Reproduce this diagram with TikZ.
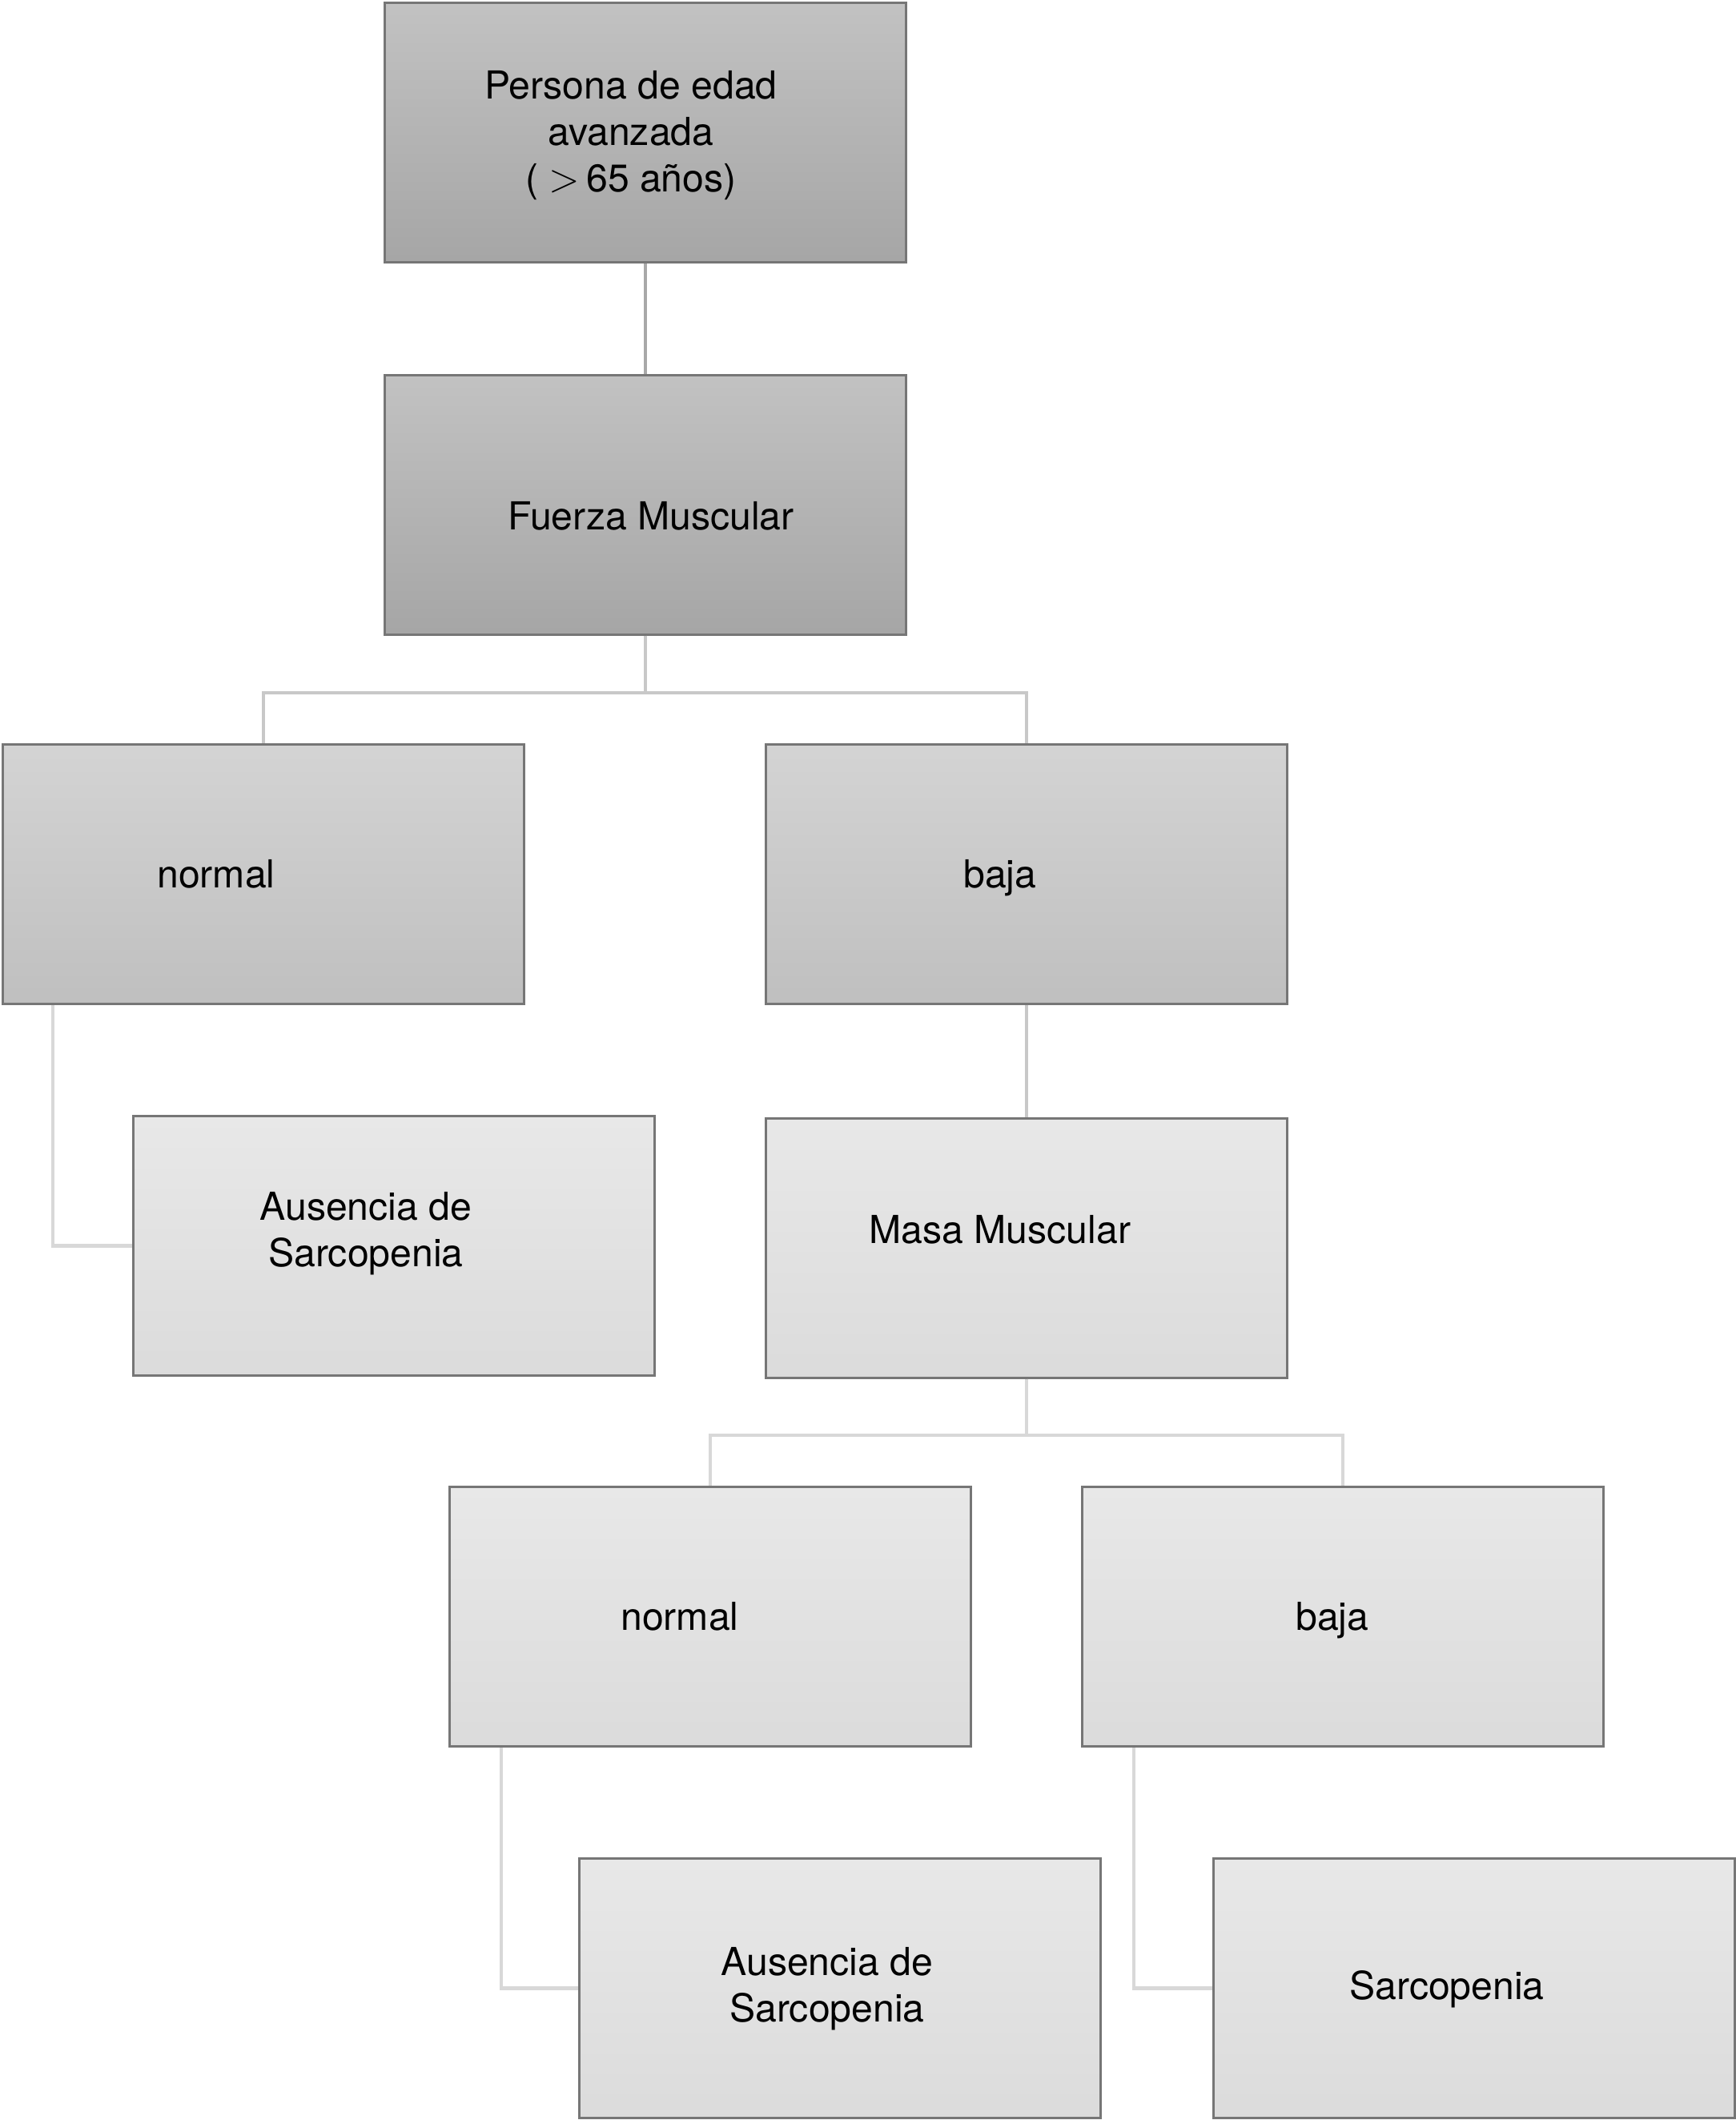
\documentclass[tikz,border=0pt]{standalone}
\usepackage{fontspec}
\setmainfont{TeX Gyre Heros}
\usetikzlibrary{positioning, calc}

\definecolor{boxedge}{HTML}{767676}
\definecolor{linkdark}{HTML}{A8A8A8}
\definecolor{linkmid}{HTML}{C8C8C8}
\definecolor{linklight}{HTML}{D8D8D8}

\begin{document}
\begin{tikzpicture}[
    box/.style={draw=boxedge, line width=0.8pt, minimum width=6.51cm,
                minimum height=3.24cm, inner sep=0pt},
    lvlone/.style={box, top color=black!24, bottom color=black!35},
    lvltwo/.style={box, top color=black!17, bottom color=black!25},
    lvlthree/.style={box, top color=black!9, bottom color=black!14},
    txt/.style={align=center, font=\fontsize{13.7}{16.5}\selectfont},
    link/.style={line width=1.2pt},
]
    \useasboundingbox (0,0) rectangle (21.67,-26.47);

    % first two levels
    \node[lvlone, anchor=north west,
          label={[txt, xshift=-0.18cm, yshift=-0.035cm]center:{Persona de edad\\avanzada\\( $>$\,65 años)}}]
          (pe) at (4.79,-0.02) {};
    \node[lvlone, below=1.38cm of pe,
          label={[txt, xshift=0.07cm, yshift=-0.14cm]center:Fuerza Muscular}] (fm) {};

    % fuerza normal / baja
    \node[lvltwo, anchor=north west,
          label={[txt, xshift=-0.59cm]center:normal}] (fn) at (0.02,-9.28) {};
    \node[lvltwo, anchor=north west,
          label={[txt, xshift=-0.33cm, yshift=-0.05cm]center:baja}] (fb) at (9.55,-9.28) {};

    \node[lvlthree, anchor=north west,
          label={[txt, xshift=-0.35cm, yshift=0.15cm]center:{Ausencia de\\Sarcopenia}}]
          (an) at (1.65,-13.92) {};
    \node[lvlthree, below=1.40cm of fb,
          label={[txt, xshift=-0.33cm, yshift=0.23cm]center:Masa Muscular}] (mm) {};

    % masa normal / baja
    \node[lvlthree, anchor=north west,
          label={[txt, xshift=-0.38cm]center:normal}] (mn) at (5.60,-18.55) {};
    \node[lvlthree, anchor=north west,
          label={[txt, xshift=-0.13cm, yshift=-0.05cm]center:baja}] (mb) at (13.50,-18.55) {};

    \node[lvlthree, anchor=north west,
          label={[txt, xshift=-0.16cm, yshift=-0.01cm]center:{Ausencia de\\Sarcopenia}}]
          (as) at (7.22,-23.19) {};
    \node[lvlthree, anchor=north west,
          label={[txt, xshift=-0.34cm, yshift=-0.01cm]center:Sarcopenia}] (sc) at (15.14,-23.19) {};

    % connectors
    \draw[link, linkdark] (pe) -- (fm);
    \draw[link, linkmid] (fm.south) -- ++(0,-0.71) -| (fn.north);
    \draw[link, linkmid] (fm.south) -- ++(0,-0.71) -| (fb.north);
    \draw[link, linklight] ($(fn.south west)+(0.64,0)$) |- (an.west);
    \draw[link, linkmid] (fb) -- (mm);
    \draw[link, linklight] (mm.south) -- ++(0,-0.70) -| (mn.north);
    \draw[link, linklight] (mm.south) -- ++(0,-0.70) -| (mb.north);
    \draw[link, linklight] ($(mn.south west)+(0.66,0)$) |- (as.west);
    \draw[link, linklight] ($(mb.south west)+(0.66,0)$) |- (sc.west);
\end{tikzpicture}
\end{document}
